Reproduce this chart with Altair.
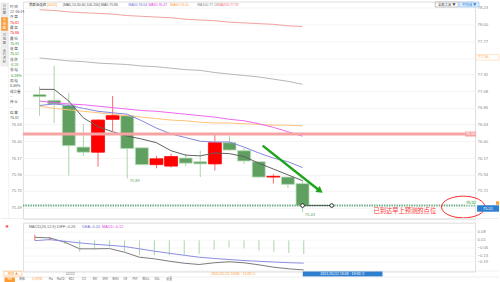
import altair as alt
import pandas as pd

FONT = "Liberation Sans"
CJK = "Noto Sans CJK SC"

# ---------------- data ----------------
candle_idx = list(range(19))
opens  = [77.04, 76.96, 76.89, 76.32, 76.25, 76.70, 76.75, 76.31, 76.08, 76.06, 76.17, 76.12, 76.09, 76.38, 76.27, 76.12, 75.91, 75.91, 75.82]
closes = [77.01, 76.91, 76.34, 76.25, 76.69, 76.75, 76.30, 76.08, 76.16, 76.19, 76.10, 76.09, 76.38, 76.28, 76.13, 75.91, 75.92, 75.81, 75.52]
highs  = [77.15, 77.43, 77.06, 76.64, 76.70, 77.02, 76.76, 76.32, 76.20, 76.23, 76.23, 76.27, 76.51, 76.47, 76.31, 76.12, 75.95, 75.91, 75.86]
lows   = [76.75, 76.65, 75.93, 76.20, 76.05, 76.54, 75.89, 76.07, 76.03, 76.04, 76.06, 75.91, 76.00, 76.27, 76.09, 75.90, 75.82, 75.76, 75.43]

ma5   = [77.11, 77.11, 76.95, 76.72, 76.60, 76.53, 76.47, 76.43, 76.38, 76.27, 76.21, 76.20, 76.24, 76.23, 76.19, 76.10, 76.02, 75.94, 75.86]
ma10  = [76.89, 76.91, 76.89, 76.85, 76.81, 76.79, 76.77, 76.68, 76.58, 76.50, 76.45, 76.40, 76.39, 76.39, 76.32, 76.24, 76.17, 76.12, 76.04]
ma30  = [76.95, 76.93, 76.91, 76.90, 76.88, 76.86, 76.84, 76.82, 76.81, 76.79, 76.77, 76.75, 76.73, 76.70, 76.68, 76.64, 76.59, 76.53, 76.47]
ma60  = [76.88, 76.85, 76.83, 76.81, 76.79, 76.77, 76.75, 76.73, 76.71, 76.69, 76.68, 76.66, 76.65, 76.65, 76.64, 76.63, 76.62, 76.62, 76.61]
ma100 = [77.54, 77.52, 77.50, 77.49, 77.47, 77.46, 77.45, 77.43, 77.42, 77.40, 77.38, 77.37, 77.34, 77.32, 77.30, 77.28, 77.25, 77.22, 77.18]
ma200 = [78.20, 78.19, 78.17, 78.16, 78.15, 78.14, 78.12, 78.11, 78.10, 78.09, 78.07, 78.06, 78.05, 78.03, 78.02, 78.01, 78.00, 77.98, 77.97]

diff_v = [0.027, 0.022, -0.016, -0.074, -0.074, -0.072, -0.104, -0.148, -0.162, -0.183, -0.201, -0.212, -0.197, -0.188, -0.197, -0.215, -0.236, -0.250, -0.26]
dea_v  = [-0.002, 0.007, -0.008, -0.022, -0.034, -0.043, -0.054, -0.074, -0.095, -0.113, -0.131, -0.148, -0.159, -0.168, -0.177, -0.184, -0.190, -0.196, -0.20]
macd_v = [0.05, 0.03, -0.03, -0.10, -0.08, -0.06, -0.10, -0.13, -0.13, -0.13, -0.13, -0.12, -0.08, -0.06, -0.07, -0.09, -0.10, -0.11, -0.12]

price_ticks = [78.23, 78.00, 77.77, 77.54, 77.32, 77.08, 76.86, 76.63, 76.40, 76.17, 75.94, 75.72, 75.49]
macd_ticks = [0.08, 0.01, -0.06, -0.13, -0.19]

pressure_level = 76.50
last_price = 75.52
arrow_i = [15.27, 19.2]
arrow_v = [76.34, 75.72]
marker_i = [18, 20]
low_marks_i = [6, 18]
note_text = "已到达早上预测的点位"
note_i, note_v = 25.0, 75.45
ellipse_i, ellipse_v = 29.0, 75.50

legend_parts = ["美原油连续", "[0015]", "(MA5,10,30,60,100,200) MA5:75.86", "MA10:76.04",
                "MA30:76.47", "MA60:76.61", "MA100:77.18", "MA200:77.97"]
info_items = ["时 间", "22-16:14", "开 盘", "75.82", "最 高", "75.86", "最 低", "75.43",
              "收 盘", "75.52", "涨 跌", "-0.28", "涨 幅", "-0.38%", "振 幅", "0.56%",
              "成交量", "--", "持 仓", "--", "结 算", "75.82"]
side_tabs = ["分时图", "K线图", "闪电图", "合约资料"]
bottom_tabs = ["日K", "周线", "1小时线", "Ma", "MaCD", "KDJ", "CCI", "RSI", "DMI",
               "BIAS", "CR", "PSY", "BOLL", "VOL", "设置"]
macd_header = ["MACD(26,12,9) DIFF:-0.26", "DEA:-0.20", "MACD:-0.12"]

# ---------------- layout ----------------
W, H, MH = 454, 218, 49
LEFT, RIGHT = 22, 24
MTOP = 222
XDOM = [-0.8, 29.47]
YDOM = [75.34, 78.312]
MDOM = [-0.2735, 0.156]

xs = alt.Scale(domain=XDOM, nice=False, zero=False)
ys = alt.Scale(domain=YDOM, nice=False, zero=False)
ms = alt.Scale(domain=MDOM, nice=False, zero=False)

RED, GREEN = "#ff0000", "#5f9f5f"
C_MA = {"ma5": "#606060", "ma10": "#8585dd", "ma30": "#ee66ee", "ma60": "#ffc27a",
        "ma100": "#b5b5b5", "ma200": "#f2a0a0"}

ONE = pd.DataFrame({"k": [0]})


def X(f):
    return alt.X(f, type="quantitative", scale=xs, axis=None)


def Y(f, sc=ys):
    return alt.Y(f, type="quantitative", scale=sc, axis=None)


def txt(text, x, y, color="#666", size=4.0, align="left", font=FONT, top=0, lh=None, weight="normal"):
    kw = dict(text=text, color=color, fontSize=size, align=align, baseline="middle",
              font=font, fontWeight=weight)
    if lh:
        kw["lineBreak"] = "\n"
        kw["lineHeight"] = lh
    return alt.Chart(ONE).mark_text(**kw).encode(x=alt.value(x - LEFT), y=alt.value(y - top))


def rect(x1, y1, x2, y2, fill, stroke=None, top=0, sw=0.6):
    kw = dict(fill=fill)
    if stroke:
        kw.update(stroke=stroke, strokeWidth=sw)
    return alt.Chart(ONE).mark_rect(**kw).encode(
        x=alt.value(x1 - LEFT), x2=alt.value(x2 - LEFT), y=alt.value(y1 - top), y2=alt.value(y2 - top))


# ---------------- main panel ----------------
cd = pd.DataFrame({"i": candle_idx, "o": opens, "c": closes, "h": highs, "l": lows})
cd["dir"] = ["up" if c >= o else "down" for o, c in zip(opens, closes)]
dir_dom = ["up", "down"]

left_ax = alt.Chart(pd.DataFrame({"v": price_ticks})).mark_point(opacity=0).encode(
    y=alt.Y("v:Q", scale=ys, axis=alt.Axis(orient="left", values=price_ticks, format=".2f",
            labelExpr="datum.value > 76.7 ? '' : datum.label",
            labelFontSize=4.2, labelColor="#888", labelFont=FONT, domain=False, ticks=False,
            grid=True, gridColor="#f1f1f1", gridWidth=0.8, labelPadding=1.5, title=None)))
right_ax = alt.Chart(pd.DataFrame({"v": price_ticks})).mark_point(opacity=0).encode(
    y=alt.Y("v:Q", scale=ys, axis=alt.Axis(orient="right", values=price_ticks, format=".2f",
            labelExpr="datum.value < 75.5 ? '' : datum.label",
            labelFontSize=4.2, labelColor="#888", labelFont=FONT, domain=False, ticks=False,
            grid=False, labelPadding=2, title=None)))

wick = alt.Chart(cd).mark_rule(strokeWidth=1).encode(
    x=X("i"), y=Y("l"), y2="h",
    color=alt.Color("dir:N", scale=alt.Scale(domain=dir_dom, range=["#ff6a6a", "#a9d6a9"]), legend=None))
body = alt.Chart(cd).mark_bar(size=13, strokeWidth=0.8).encode(
    x=X("i"), y=Y("o"), y2="c",
    fill=alt.Fill("dir:N", scale=alt.Scale(domain=dir_dom, range=[RED, GREEN]), legend=None),
    stroke=alt.Stroke("dir:N", scale=alt.Scale(domain=dir_dom, range=[RED, "#b8dcb8"]), legend=None))

mad = pd.DataFrame({"i": candle_idx, "ma5": ma5, "ma10": ma10, "ma30": ma30,
                    "ma60": ma60, "ma100": ma100, "ma200": ma200})
ma_layers = [alt.Chart(mad).mark_line(color=C_MA[k], strokeWidth=1).encode(x=X("i"), y=Y(k))
             for k in ["ma200", "ma100", "ma60", "ma30", "ma10", "ma5"]]

red_line = alt.Chart(pd.DataFrame({"v": [pressure_level]})).mark_rule(
    color="#f6a3a3", strokeWidth=3).encode(y=Y("v"), x=alt.value(0), x2=alt.value(W))
green_line = alt.Chart(pd.DataFrame({"v": [last_price]})).mark_rule(
    color="#6fae8a", strokeWidth=2, strokeDash=[1.5, 1]).encode(y=Y("v"), x=alt.value(0), x2=alt.value(W))

arr = pd.DataFrame({"i": arrow_i, "v": arrow_v})
arrow_line = alt.Chart(arr).mark_line(color="#1ea51e", strokeWidth=2.5).encode(x=X("i"), y=Y("v"))
arrow_head = alt.Chart(arr.iloc[[1]]).mark_point(shape="triangle-right", filled=True, size=55,
                                                  angle=37, color="#1ea51e", opacity=1).encode(x=X("i"), y=Y("v"))

mk = pd.DataFrame({"i": marker_i, "v": [last_price] * len(marker_i)})
mk_line = alt.Chart(mk).mark_line(color="#444", strokeWidth=0.8).encode(x=X("i"), y=Y("v"))
mk_pts = alt.Chart(mk).mark_point(shape="circle", filled=True, fill="white", stroke="#333",
                                  strokeWidth=1, size=14, opacity=1).encode(x=X("i"), y=Y("v"))

lm = pd.DataFrame({"i": low_marks_i, "v": [lows[j] for j in low_marks_i]})
lm["t"] = [f"{v:.2f}" for v in lm["v"]]
low_txt = alt.Chart(lm).mark_text(align="left", baseline="middle", dx=2.5, dy=3, fontSize=4,
                                  color="#5a9e5a", font=FONT).encode(x=X("i"), y=Y("v"), text="t:N")

note = alt.Chart(pd.DataFrame({"i": [note_i], "v": [note_v], "t": [note_text]})).mark_text(
    font=CJK, fontSize=6.3, color="#ff3030", align="center", baseline="middle").encode(
    x=X("i"), y=Y("v"), text="t:N")
ellipse = alt.Chart(pd.DataFrame({"i": [ellipse_i], "v": [ellipse_v]})).mark_point(
    shape="M -1 0 A 1 0.5 0 1 1 1 0 A 1 0.5 0 1 1 -1 0 Z", size=1900, filled=False,
    stroke="#ff2a2a", strokeWidth=1, opacity=1).encode(x=X("i"), y=Y("v"))

main_chrome = []
# white info panel background
main_chrome.append(rect(0, 0, 22, 121, "white"))
# side tabs
tab_y = [(1.5, 14.5), (15.5, 29.5), (30.5, 44.5), (45.5, 64.5)]
for k, (name, (a, b)) in enumerate(zip(side_tabs, tab_y)):
    sel = k == 1
    main_chrome.append(rect(0, a, 7, b, "#ff9a2e" if sel else "#f3f3f3", stroke="#dddddd"))
    main_chrome.append(txt("\n".join(name), 3.5, (a + b) / 2 - (len(name) - 1) * 1.9,
                           color="white" if sel else "#666", size=3.3, align="center", font=CJK, lh=3.8))
main_chrome.append(rect(7.6, 0, 8, 218, "#e4e4e4"))
# info panel text
val_colors = ["#555", RED, RED, "#2e9e2e", "#2e9e2e", "#2e9e2e", "#2e9e2e", "#555", "#555", "#555", "#555"]
for k, t in enumerate(info_items):
    col = "#555" if k % 2 == 0 else val_colors[k // 2]
    main_chrome.append(txt(t, 9, 5 + k * 5.35, color=col, size=3.6, font=CJK))
# header legend
leg_x = [28, 46.5, 62, 128, 148, 170, 197, 218]
leg_c = ["#333", "#ff9a2e", "#555", "#6c6cd6", "#e040e0", "#ffa040", "#888", "#f07070"]
for t, x, c in zip(legend_parts, leg_x, leg_c):
    main_chrome.append(txt(t, x, 3.5, color=c, size=3.5, font=CJK if t[0] == "美" else FONT))
# top-right buttons
main_chrome.append(rect(436, 0.5, 459, 5.5, "white", stroke="#999"))
main_chrome.append(txt("全部工具 ▼", 447.5, 3, color="#444", size=3.4, align="center", font=CJK))
main_chrome.append(rect(460, 0.5, 480, 5.5, "#dcecff", stroke="#8ab8e8"))
main_chrome.append(txt("平均线 ▼", 470, 3, color="#2f7fd0", size=3.4, align="center", font=CJK))
# right tags
main_chrome.append(rect(477, 53.2, 500, 58.8, "white", stroke="#ffd3a0"))
main_chrome.append(txt("77.56", 479, 56, color="#ffa040", size=4.2))
main_chrome.append(rect(466, 130.5, 477, 135.5, "#f6a3a3"))
main_chrome.append(txt("76.50", 471.5, 133, color="white", size=4, align="center"))
main_chrome.append(rect(467, 199.5, 477, 204.5, "#eaf5ea"))
main_chrome.append(txt("75.52", 472, 202, color="#3c9a3c", size=4, align="center"))
main_chrome.append(rect(478, 204.5, 500, 211, "#2f7fd0"))
main_chrome.append(txt("75.51", 489, 207.8, color="white", size=4, align="center"))
main_chrome.append(rect(497, 200.5, 500, 204, "#ffa040"))
# separator
main_chrome.append(rect(0, 217.4, 500, 218, "#e8e8e8"))

main = alt.layer(
    left_ax, right_ax, wick, body, *ma_layers, red_line, green_line,
    arrow_line, arrow_head, mk_line, mk_pts, low_txt, note, ellipse, *main_chrome
).resolve_axis(y="independent").properties(width=W, height=H)

# ---------------- MACD panel ----------------
md = pd.DataFrame({"i": candle_idx, "diff": diff_v, "dea": dea_v, "macd": macd_v, "zero": [0.0] * 19})
md["sign"] = ["pos" if m > 0 else "neg" for m in macd_v]

m_left = alt.Chart(pd.DataFrame({"v": macd_ticks})).mark_point(opacity=0).encode(
    y=alt.Y("v:Q", scale=ms, axis=alt.Axis(orient="left", values=macd_ticks, format=".2f",
            labelFontSize=4.2, labelColor="#888", labelFont=FONT, domain=False, ticks=False,
            grid=True, gridColor="#f3f3f3", gridWidth=0.8, labelPadding=1.5, title=None)))
m_right = alt.Chart(pd.DataFrame({"v": macd_ticks})).mark_point(opacity=0).encode(
    y=alt.Y("v:Q", scale=ms, axis=alt.Axis(orient="right", values=macd_ticks, format=".2f",
            labelFontSize=4.2, labelColor="#888", labelFont=FONT, domain=False, ticks=False,
            grid=False, labelPadding=2, title=None)))
bars = alt.Chart(md).mark_rule(strokeWidth=1).encode(
    x=X("i"), y=Y("macd", ms), y2="zero",
    color=alt.Color("sign:N", scale=alt.Scale(domain=["pos", "neg"], range=["#ff5050", "#a3d3a3"]), legend=None))
diff_line = alt.Chart(md).mark_line(color="#7a7a7a", strokeWidth=1).encode(x=X("i"), y=Y("diff", ms))
dea_line = alt.Chart(md).mark_line(color="#8c8ce0", strokeWidth=1).encode(x=X("i"), y=Y("dea", ms))

mc = []
mc.append(rect(0, 222, 22, 282, "white", top=MTOP))
mc.append(txt("*", 6, 227.5, color="#ff3030", size=8, weight="bold", align="center", top=MTOP))
hx = [28, 81.5, 101.5]
hc = ["#666", "#6c6cd6", "#e040e0"]
for t, x, c in zip(macd_header, hx, hc):
    mc.append(txt(t, x, 226.7, color=c, size=3.9, top=MTOP))
mc.append(rect(0, 270.2, 500, 270.8, "#e4e4e4", top=MTOP))
mc.append(txt("02/22", 69.5, 273.3, color="#777", size=3.6, align="center", top=MTOP))
mc.append(txt("2021/02/22 10:00 - 11:00 三", 211, 273.3, color="#ff9a2e", size=3.6, font=CJK, top=MTOP))
mc.append(rect(303, 271.0, 383, 276.0, "#2f7fd0", top=MTOP))
mc.append(txt("2021/02/22 18:00 - 19:00 三", 343, 273.5, color="white", size=3.6, align="center", font=CJK, top=MTOP))
mc.append(rect(3, 270.8, 21, 275.6, "white", stroke="#ffb060", top=MTOP))
mc.append(txt("缩放 ▲", 12, 273.2, color="#ff9a2e", size=3.2, align="center", font=CJK, top=MTOP))
mc.append(rect(0, 276.3, 500, 276.7, "#dddddd", top=MTOP))
tab_x = [5, 18, 31, 48, 56, 68, 81, 92, 102, 112, 123, 132, 142, 154, 166]
for k, (t, x) in enumerate(zip(bottom_tabs, tab_x)):
    if k == 0:
        mc.append(rect(x - 1.5, 277.0, x + 9, 281.6, "#ff9a2e", top=MTOP))
        mc.append(txt(t, x + 3.8, 278.8, color="white", size=2.9, align="center", font=CJK, top=MTOP))
    else:
        mc.append(txt(t, x, 278.8, color="#ff9a2e" if k == 2 else "#555", size=2.9, font=CJK, top=MTOP))
mc.append(rect(480, 281.5, 500, 282, "white", top=MTOP))

macd_chart = alt.layer(
    m_left, m_right, bars, diff_line, dea_line, *mc
).resolve_axis(y="independent").properties(width=W, height=MH)

chart = alt.vconcat(main, macd_chart, spacing=4, bounds="flush").properties(
    padding={"left": 0, "top": 0, "right": 0, "bottom": 0}
).configure_view(stroke=None).configure(background="white")

chart.save("out.html", embed_options={"renderer": "svg", "actions": False})
